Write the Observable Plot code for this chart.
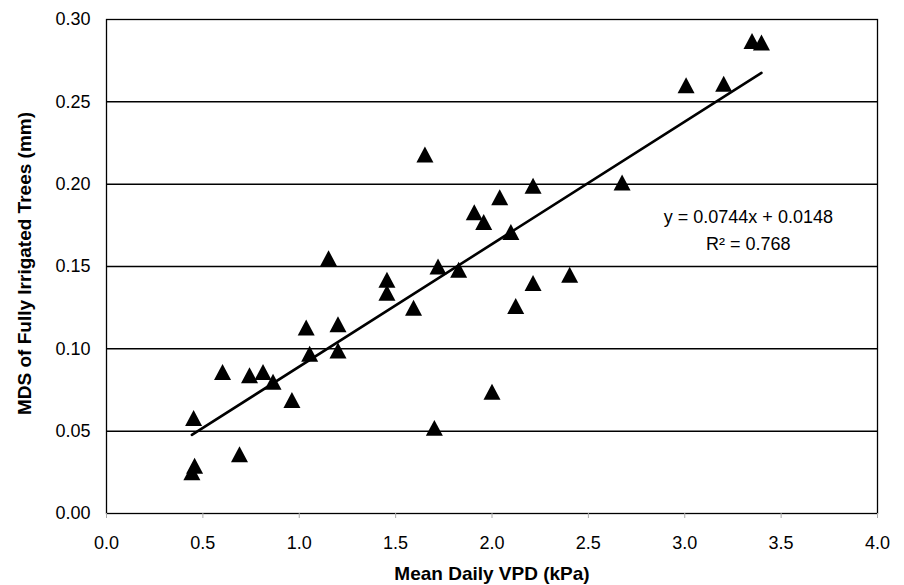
<!DOCTYPE html>
<html>
<head>
<meta charset="utf-8">
<script src="https://cdn.jsdelivr.net/npm/d3@7"></script>
<script src="https://cdn.jsdelivr.net/npm/@observablehq/plot@0.6"></script>
<style>
  html, body { margin: 0; padding: 0; background: #fff; }
</style>
</head>
<body>
<div id="chart"></div>
<script>
// Mean daily VPD (kPa)
const vpd = [0.443, 0.457, 0.452, 0.602, 0.690, 0.742, 0.812, 0.864, 0.962, 1.036,
             1.054, 1.152, 1.201, 1.201, 1.455, 1.455, 1.593, 1.652, 1.701, 1.720,
             1.827, 1.908, 1.957, 2.000, 2.040, 2.098, 2.123, 2.213, 2.213, 2.403,
             2.675, 3.007, 3.202, 3.349, 3.398];
// MDS of fully irrigated trees (mm)
const mds = [0.025, 0.029, 0.058, 0.086, 0.036, 0.084, 0.086, 0.080, 0.069, 0.113,
             0.097, 0.155, 0.115, 0.099, 0.142, 0.134, 0.125, 0.218, 0.052, 0.150,
             0.148, 0.183, 0.177, 0.074, 0.192, 0.171, 0.126, 0.199, 0.140, 0.145,
             0.201, 0.260, 0.261, 0.287, 0.286];

const slope = 0.0744;
const intercept = 0.0148;
const eqLines = ["y = 0.0744x + 0.0148", "R\u00b2 = 0.768"];
const eqX = [3.33, 3.33];
const eqY = [0.1800, 0.1634];

const xTicks = [0, 0.5, 1, 1.5, 2, 2.5, 3, 3.5, 4];
const yTicks = [0, 0.05, 0.10, 0.15, 0.20, 0.25, 0.30];
const gridY = [0.05, 0.10, 0.15, 0.20, 0.25];
const xTitle = "Mean Daily VPD (kPa)";
const yTitle = "MDS of Fully Irrigated Trees (mm)";

const points = vpd.map((x, i) => ({x, y: mds[i]}));
const xMin = d3.min(vpd), xMax = d3.max(vpd);
const fit = [xMin, xMax].map(x => ({x, y: slope * x + intercept}));
const eq = eqLines.map((t, i) => ({t, x: eqX[i], y: eqY[i]}));

const excelTriangle = {
  draw(ctx, size) {
    const s = Math.sqrt(size);
    const w = s * 0.5, h = s * 0.47;
    ctx.moveTo(0, -h);
    ctx.lineTo(w, h);
    ctx.lineTo(-w, h);
    ctx.closePath();
  }
};

const chart = Plot.plot({
  width: 904,
  height: 585,
  marginLeft: 106,
  marginRight: 27,
  marginTop: 19,
  marginBottom: 72,
  style: {fontFamily: "'Liberation Sans', Arial, sans-serif", fontSize: "18px", color: "black", background: "white"},
  x: {domain: [0, 4]},
  y: {domain: [0, 0.30]},
  marks: [
    Plot.ruleY(gridY, {stroke: "black", strokeWidth: 1.5}),
    Plot.frame({stroke: "black", strokeWidth: 1.3}),
    Plot.axisX({ticks: xTicks, tickFormat: d3.format(".1f"), tickSize: 5, stroke: "#aaa", tickPadding: 17.5, label: null, fill: "black"}),
    Plot.axisY({ticks: yTicks, tickFormat: d3.format(".2f"), tickSize: 0, tickPadding: 16, label: null, fill: "black"}),
    Plot.line(fit, {x: "x", y: "y", stroke: "black", strokeWidth: 2.6}),
    Plot.dot(points, {x: "x", y: "y", symbol: excelTriangle, r: 9.6, fill: "black", stroke: "none"}),
    Plot.text(eq, {x: "x", y: "y", text: "t", fill: "black", textAnchor: "middle", lineAnchor: "middle"}),
    Plot.text([xTitle], {frameAnchor: "bottom", dy: 60.5, text: d => d, fontSize: 19, fontWeight: "bold", textAnchor: "middle", lineAnchor: "middle", fill: "black"}),
    Plot.text([yTitle], {frameAnchor: "left", dx: -82, dy: -3, rotate: -90, text: d => d, fontSize: 19, fontWeight: "bold", textAnchor: "middle", lineAnchor: "middle", fill: "black"})
  ]
});
document.getElementById("chart").appendChild(chart);
</script>
</body>
</html>
